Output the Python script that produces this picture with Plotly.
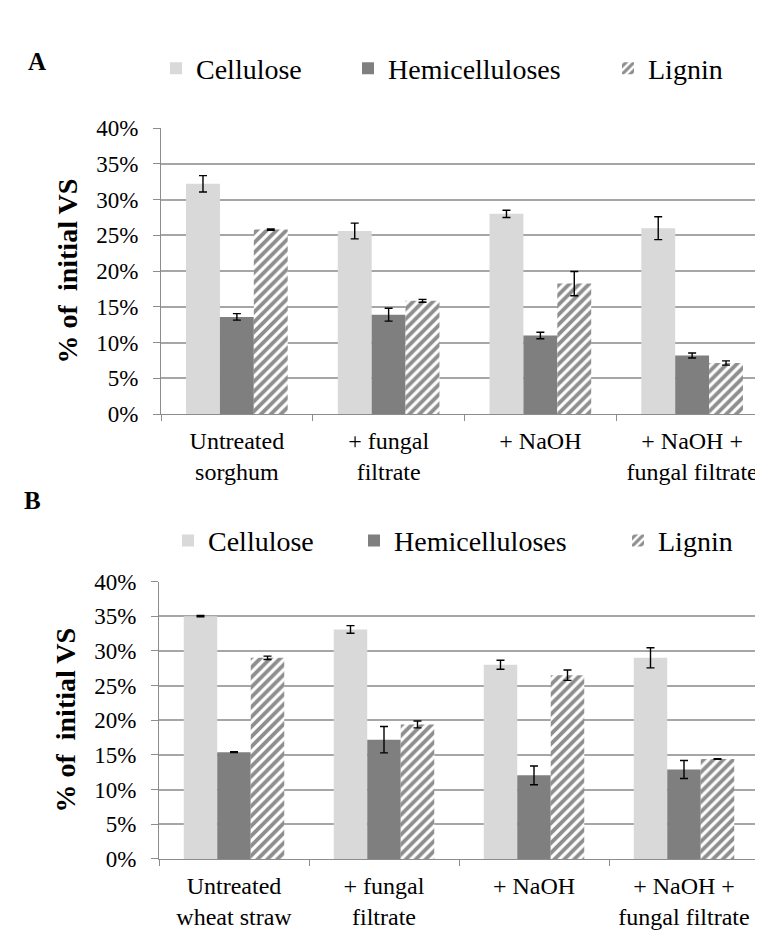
import plotly.graph_objects as go

# ---------------- data ----------------
categories_a = ["Untreated<br>sorghum", "+ fungal<br>filtrate", "+ NaOH", "+ NaOH +<br>fungal filtrate"]
categories_b = ["Untreated<br>wheat straw", "+ fungal<br>filtrate", "+ NaOH", "+ NaOH +<br>fungal filtrate"]
series_names = ["Cellulose", "Hemicelluloses", "Lignin"]

cellulose_a = [0.322, 0.256, 0.280, 0.260]
cellulose_a_err = [0.0115, 0.011, 0.005, 0.016]
hemi_a = [0.136, 0.139, 0.110, 0.082]
hemi_a_err = [0.0045, 0.009, 0.0045, 0.0035]
lignin_a = [0.258, 0.1585, 0.1825, 0.0715]
lignin_a_err = [0.001, 0.002, 0.017, 0.003]

cellulose_b = [0.350, 0.331, 0.280, 0.290]
cellulose_b_err = [0.001, 0.0055, 0.0065, 0.0145]
hemi_b = [0.154, 0.172, 0.1205, 0.129]
hemi_b_err = [0.0005, 0.019, 0.0135, 0.013]
lignin_b = [0.290, 0.194, 0.265, 0.144]
lignin_b_err = [0.0025, 0.005, 0.0075, 0.0005]

y_tick_vals = [0, 0.05, 0.10, 0.15, 0.20, 0.25, 0.30, 0.35, 0.40]
y_title = "% of  initial VS"

# ---------------- styling ----------------
W, H = 763, 934
FONT = "Liberation Serif"
C_CELL = "#d9d9d9"
C_HEMI = "#7f7f7f"
C_AXIS = "#8c8c8c"
C_GRID = "#a6a6a6"

def err(arr):
    return dict(type="data", array=arr, color="black", thickness=1.4, width=4, visible=True)

fig = go.Figure()

panels = [
    ("x", "y", categories_a, [cellulose_a, hemi_a, lignin_a],
     [cellulose_a_err, hemi_a_err, lignin_a_err], ["legend", "legend2", "legend3"]),
    ("x2", "y2", categories_b, [cellulose_b, hemi_b, lignin_b],
     [cellulose_b_err, hemi_b_err, lignin_b_err], ["legend4", "legend5", "legend6"]),
]

for xa, ya, cats, vals, errs, legs in panels:
    for i, name in enumerate(series_names):
        marker = dict(line=dict(width=0))
        if i == 0:
            marker["color"] = C_CELL
        elif i == 1:
            marker["color"] = C_HEMI
        else:
            marker["color"] = "white"
            marker["pattern"] = dict(shape="/", fgcolor="#1e1e1e", bgcolor="white",
                                     size=7, solidity=0.55, fillmode="overlay")
        fig.add_trace(go.Bar(
            x=cats, y=vals[i], name=name, marker=marker,
            error_y=err(errs[i]), xaxis=xa, yaxis=ya, legend=legs[i],
            showlegend=True,
        ))

def xaxis_cfg(domain, anchor):
    return dict(domain=domain, anchor=anchor, showline=True, linecolor=C_AXIS, linewidth=1.2,
                ticks="outside", ticklen=6, tickcolor=C_AXIS, tickson="boundaries",
                tickfont=dict(family=FONT, size=24, color="black"),
                ticklabelstandoff=5, showgrid=False, zeroline=False, fixedrange=True)

def yaxis_cfg(domain, anchor):
    return dict(domain=domain, anchor=anchor, range=[0, 0.40], tickvals=y_tick_vals,
                tickformat=".0%", showline=True, linecolor=C_AXIS, linewidth=1.2,
                ticks="outside", ticklen=7, tickcolor=C_AXIS,
                showgrid=True, gridcolor=C_GRID, gridwidth=1.5, zeroline=False,
                tickfont=dict(family=FONT, size=23, color="black"),
                ticklabelstandoff=10,
                title=dict(text="<b>" + y_title + "</b>", standoff=10,
                           font=dict(family=FONT, size=28, color="black")),
                fixedrange=True)

fig.update_layout(
    width=W, height=H, autosize=False,
    margin=dict(l=0, r=0, t=0, b=0),
    paper_bgcolor="white", plot_bgcolor="white",
    barmode="group", bargap=0.33, bargroupgap=0,
    font=dict(family=FONT, color="black"),
    xaxis=xaxis_cfg([153 / W, 760 / W], "y"),
    yaxis=yaxis_cfg([1 - 405 / H, 1 - 111 / H], "x"),
    xaxis2=xaxis_cfg([151 / W, 751 / W], "y2"),
    yaxis2=yaxis_cfg([1 - 862 / H, 1 - 577 / H], "x2"),
)

leg_font = dict(family=FONT, size=28, color="black")
legend_pos = {
    "legend": (148, 50), "legend2": (340, 50), "legend3": (600, 50),
    "legend4": (160, 535), "legend5": (346, 535), "legend6": (610, 535),
}
for key, (px, py) in legend_pos.items():
    fig.update_layout({key: dict(x=px / W, y=1 - py / H, xanchor="left", yanchor="middle",
                                 orientation="h", font=leg_font, bgcolor="rgba(0,0,0,0)",
                                 itemclick=False, itemdoubleclick=False)})

fig.add_annotation(text="<b>A</b>", x=18 / W, y=1 - 27 / H, xref="paper", yref="paper",
                   showarrow=False, font=dict(family=FONT, size=25, color="black"))
fig.add_annotation(text="<b>B</b>", x=14 / W, y=1 - 494 / H, xref="paper", yref="paper",
                   showarrow=False, font=dict(family=FONT, size=25, color="black"))

fig.write_html("out.html")
